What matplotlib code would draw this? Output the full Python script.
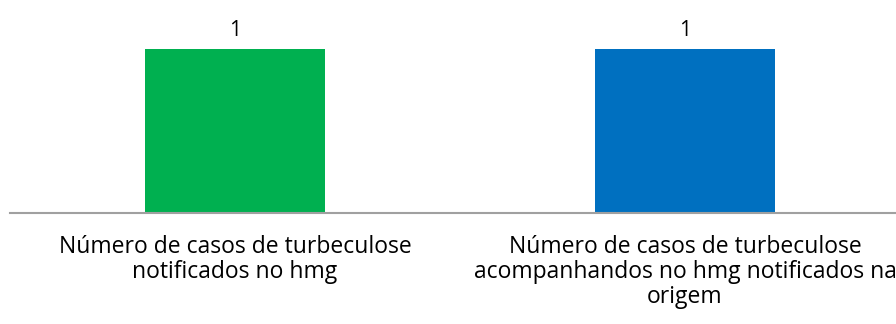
import matplotlib
matplotlib.use("Agg")
import matplotlib.pyplot as plt

categories = [
    "Número de casos de turbeculose\nnotificados no hmg",
    "Número de casos de turbeculose\nacompanhandos no hmg notificados na\norigem",
]
values = [1, 1]
colors = ["#00B050", "#0070C0"]

plt.rcParams["font.family"] = ["Open Sans", "DejaVu Sans"]

W, H = 896, 324
fig = plt.figure(figsize=(W / 100, H / 100), dpi=100)
# axes run a bit past the right edge, so the last label gets cut like a pasted chart
x0, x1 = 10, 910
y_base, y_top = 213, 49
ax = fig.add_axes([x0 / W, 1 - y_base / H, (x1 - x0) / W, (y_base - y_top) / H])

xs = range(len(values))
ax.bar(xs, values, width=0.4, color=colors, zorder=2)
ax.set_xlim(-0.5, len(values) - 0.5)
ax.set_ylim(0, max(values))

for x, v in zip(xs, values):
    ax.annotate(f"{v}", (x, v), xytext=(0, 6), textcoords="offset points",
                ha="center", va="bottom", fontsize=15, color="#000000",
                annotation_clip=False)

for x, lab in zip(xs, categories):
    ax.annotate(lab, (x, 0), xytext=(0, -16), textcoords="offset points",
                ha="center", va="top", fontsize=16.5, color="#000000",
                linespacing=1.06, annotation_clip=False)

for s in ["top", "right", "left"]:
    ax.spines[s].set_visible(False)
ax.spines["bottom"].set_color("#A0A0A0")
ax.spines["bottom"].set_linewidth(1.5)
ax.set_xticks([])
ax.set_yticks([])

fig.savefig("out.png", dpi=100)
